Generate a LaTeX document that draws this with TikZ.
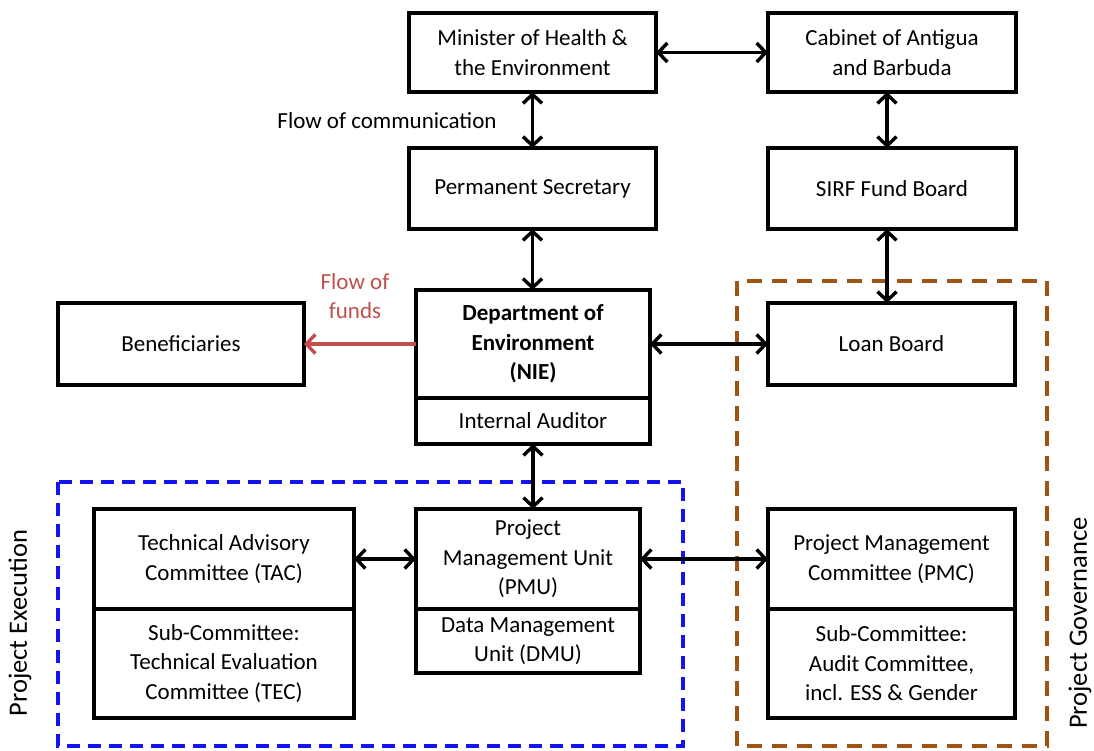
\documentclass[tikz,border=0pt]{standalone}
\usepackage{fontspec}
\setmainfont{Carlito}
\usetikzlibrary{arrows.meta}
\definecolor{fundred}{RGB}{192,80,77}
\definecolor{govbrown}{RGB}{158,84,18}
\definecolor{exeblue}{RGB}{20,20,240}
\begin{document}
\begin{tikzpicture}[x=1pt,y=-1pt,
  box/.style={draw=black, line width=4.2pt, align=center, inner sep=0pt, outer sep=0pt,
    font=\fontsize{23}{29.5}\selectfont},
  conn/.style={line width=3.4pt, {Straight Barb[length=9pt,width=19pt]}-{Straight Barb[length=9pt,width=19pt]}},
  oneway/.style={line width=3.4pt, -{Straight Barb[length=9pt,width=19pt]}},
  lbl/.style={font=\fontsize{23}{29.5}\selectfont, align=center, inner sep=0pt},
  side/.style={font=\fontsize{26.5}{32}\selectfont, inner sep=0pt, rotate=90}]
\useasboundingbox (0,0) rectangle (1094,750);

% dashed groups
\draw[exeblue, line width=3.5pt, dash pattern=on 13pt off 8pt] (58,482) rectangle (683,746);
\draw[govbrown, line width=3.5pt, dash pattern=on 15pt off 10pt] (737,281) rectangle (1047,746);

% top boxes
\node[box, minimum width=247pt, minimum height=79pt] (min) at (532.5,52.5) {Minister of Health \&\\the Environment};
\node[box, minimum width=248pt, minimum height=79pt] (cab) at (892,52.5) {Cabinet of Antigua\\and Barbuda};
\node[box, minimum width=247pt, minimum height=81pt] (ps) at (532.5,188.5) {Permanent Secretary};
\node[box, minimum width=248pt, minimum height=81pt] (sirf) at (892,188.5) {SIRF Fund Board};

% department
\node[box, minimum width=234pt, minimum height=108pt] (dept) at (533,344) {\bfseries Department of\\\bfseries Environment\\\bfseries (NIE)};
\node[box, minimum width=234pt, minimum height=46pt] (aud) at (533,421) {Internal Auditor};

\node[box, minimum width=246pt, minimum height=82pt] (ben) at (181,344) {Beneficiaries};
\node[box, minimum width=247pt, minimum height=82pt] (loan) at (891.5,344) {Loan Board};

% execution
\node[box, minimum width=260pt, minimum height=100pt] (tac) at (224,559) {Technical Advisory\\Committee (TAC)};
\node[box, minimum width=260pt, minimum height=109pt] (tec) at (224,663.5) {Sub-Committee:\\Technical Evaluation\\Committee (TEC)};
\node[box, minimum width=224pt, minimum height=100pt] (pmu) at (528,559) {Project\\Management Unit\\(PMU)};
\node[box, minimum width=224pt, minimum height=64pt] (dmu) at (528,641) {Data Management\\Unit (DMU)};

% governance
\node[box, minimum width=247pt, minimum height=100pt] (pmc) at (891.5,559) {Project Management\\Committee (PMC)};
\node[box, minimum width=247pt, minimum height=109pt] (aud2) at (891.5,663.5) {Sub-Committee:\\Audit Committee,\\incl. ESS \& Gender};

% connectors
\draw[conn] (min.east) -- (cab.west);
\draw[conn] (min.south) -- (ps.north);
\draw[conn] ([xshift=-5pt]cab.south) -- ([xshift=-5pt]cab.south |- sirf.north);
\draw[conn] (ps.south) -- (ps.south |- dept.north);
\draw[conn] ([xshift=-5pt]sirf.south) -- ([xshift=-5pt]sirf.south |- loan.north);
\draw[conn] (dept.east) -- (loan.west);
\draw[oneway, fundred] (dept.west) -- (ben.east);
\draw[conn] (aud.south) -- (aud.south |- pmu.north);
\draw[conn] (tac.east) -- (pmu.west);
\draw[conn] (pmu.east) -- (pmc.west);

% labels
\node[lbl] (flowcomm) at (387,121) {Flow of communication};
\node[lbl, text=fundred] (flowfund) at (355,296) {Flow of\\funds};
\node[side] (exe) at (20,623) {Project Execution};
\node[side] (gov) at (1080,623) {Project Governance};
\end{tikzpicture}
\end{document}
